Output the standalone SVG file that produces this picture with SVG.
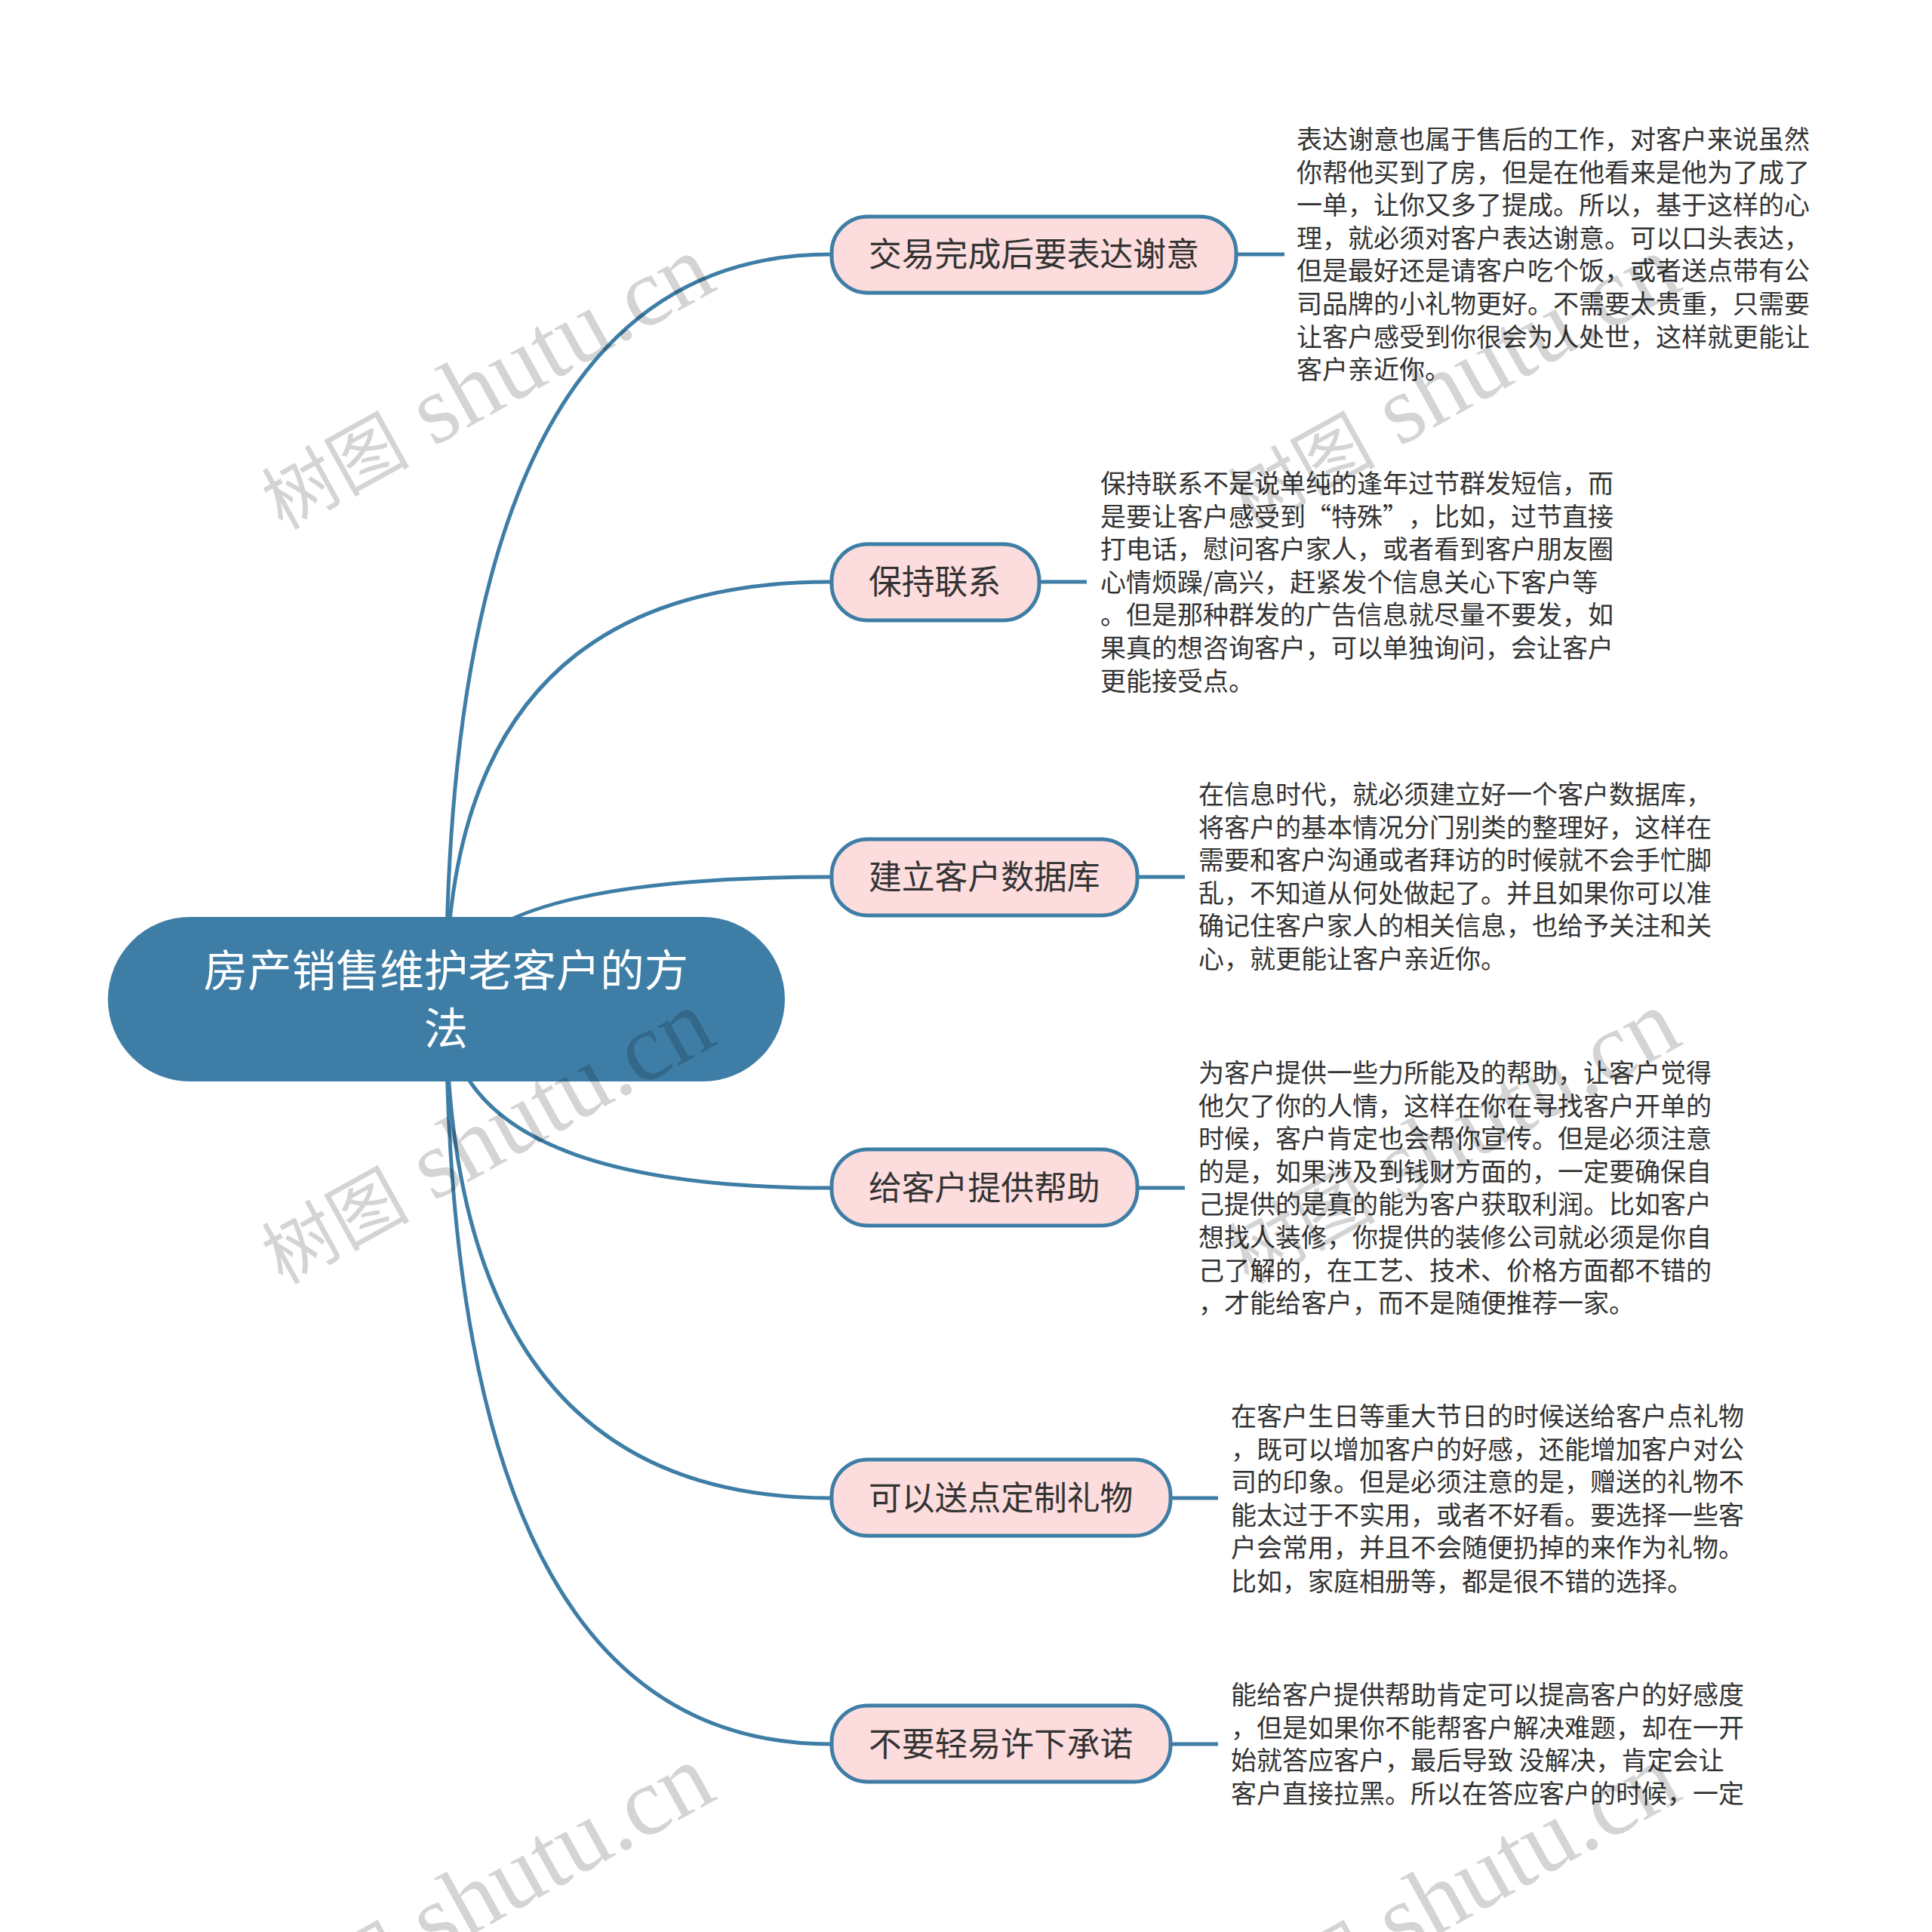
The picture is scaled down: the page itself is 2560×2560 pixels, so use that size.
<svg xmlns="http://www.w3.org/2000/svg" width="2560" height="2560" viewBox="0 0 2560 2560">
<style>
text{font-family:"Noto Sans CJK SC","Noto Sans",sans-serif}
.c{fill:none;stroke:#3e7ea6;stroke-width:5}
.b rect{fill:#fcdcdc;stroke:#3e7ea6;stroke-width:5}
.b text{font-size:43.8px;fill:#333}
.d{font-size:34px;fill:#333}
.t{font-size:58.4px;fill:#fff;text-anchor:middle}
.w{font-family:"Liberation Serif","Noto Sans CJK SC",serif;font-size:129px;fill:#000;fill-opacity:.17}
.w tspan{font-family:"Noto Sans CJK SC",serif;font-size:98px}
</style>
<rect width="2560" height="2560" fill="#fff"/>
<g id="connectors">
<path class="c" d="M591 1324Q591 337 1100 337"/>
<path class="c" d="M591 1324Q591 771 1100 771"/>
<path class="c" d="M591 1324Q591 1162 1100 1162"/>
<path class="c" d="M591 1324Q591 1574 1100 1574"/>
<path class="c" d="M591 1324Q591 1985 1100 1985"/>
<path class="c" d="M591 1324Q591 2311 1100 2311"/>
<path class="c" d="M1638 337H1702"/>
<path class="c" d="M1377 771H1440"/>
<path class="c" d="M1507 1162H1570"/>
<path class="c" d="M1507 1574H1570"/>
<path class="c" d="M1551 1985H1614"/>
<path class="c" d="M1551 2311H1614"/>
</g>
<g id="root"><rect x="143" y="1215" width="897" height="218" rx="109" ry="109" fill="#3e7ea6"/>
<text class="t" x="591" y="1307">房产销售维护老客户的方</text><text class="t" x="591" y="1384">法</text></g>
<g id="n1" class="b"><rect x="1102" y="287" width="536" height="101" rx="48"/><text x="1151" y="353">交易完成后要表达谢意</text></g>
<g id="n2" class="b"><rect x="1102" y="721" width="275" height="101" rx="48"/><text x="1151" y="787">保持联系</text></g>
<g id="n3" class="b"><rect x="1102" y="1112" width="405" height="101" rx="48"/><text x="1151" y="1178">建立客户数据库</text></g>
<g id="n4" class="b"><rect x="1102" y="1523" width="405" height="101" rx="48"/><text x="1151" y="1590">给客户提供帮助</text></g>
<g id="n5" class="b"><rect x="1102" y="1934" width="449" height="101" rx="48"/><text x="1151" y="2001">可以送点定制礼物</text></g>
<g id="n6" class="b"><rect x="1102" y="2260" width="449" height="101" rx="48"/><text x="1151" y="2327">不要轻易许下承诺</text></g>
<g id="d1" class="d">
<text class="d" x="1718" y="197">表达谢意也属于售后的工作，对客户来说虽然</text>
<text class="d" x="1718" y="240.6">你帮他买到了房，但是在他看来是他为了成了</text>
<text class="d" x="1718" y="284.2">一单，让你又多了提成。所以，基于这样的心</text>
<text class="d" x="1718" y="327.8">理，就必须对客户表达谢意。可以口头表达，</text>
<text class="d" x="1718" y="371.4">但是最好还是请客户吃个饭，或者送点带有公</text>
<text class="d" x="1718" y="415">司品牌的小礼物更好。不需要太贵重，只需要</text>
<text class="d" x="1718" y="458.6">让客户感受到你很会为人处世，这样就更能让</text>
<text class="d" x="1718" y="502.2">客户亲近你。</text>
</g>
<g id="d2" class="d">
<text class="d" x="1458" y="653">保持联系不是说单纯的逢年过节群发短信，而</text>
<text class="d" x="1458" y="696.6">是要让客户感受到“特殊”<tspan dx="17">，比如，过节直接</tspan></text>
<text class="d" x="1458" y="740.2">打电话，慰问客户家人，或者看到客户朋友圈</text>
<text class="d" x="1458" y="783.8">心情烦躁/高兴，赶紧发个信息关心下客户等</text>
<text class="d" x="1458" y="827.4">。但是那种群发的广告信息就尽量不要发，如</text>
<text class="d" x="1458" y="871">果真的想咨询客户，可以单独询问，会让客户</text>
<text class="d" x="1458" y="914.6">更能接受点。</text>
</g>
<g id="d3" class="d">
<text class="d" x="1588" y="1065">在信息时代，就必须建立好一个客户数据库，</text>
<text class="d" x="1588" y="1108.6">将客户的基本情况分门别类的整理好，这样在</text>
<text class="d" x="1588" y="1152.2">需要和客户沟通或者拜访的时候就不会手忙脚</text>
<text class="d" x="1588" y="1195.8">乱，不知道从何处做起了。并且如果你可以准</text>
<text class="d" x="1588" y="1239.4">确记住客户家人的相关信息，也给予关注和关</text>
<text class="d" x="1588" y="1283">心，就更能让客户亲近你。</text>
</g>
<g id="d4" class="d">
<text class="d" x="1588" y="1434">为客户提供一些力所能及的帮助，让客户觉得</text>
<text class="d" x="1588" y="1477.6">他欠了你的人情，这样在你在寻找客户开单的</text>
<text class="d" x="1588" y="1521.2">时候，客户肯定也会帮你宣传。但是必须注意</text>
<text class="d" x="1588" y="1564.8">的是，如果涉及到钱财方面的，一定要确保自</text>
<text class="d" x="1588" y="1608.4">己提供的是真的能为客户获取利润。比如客户</text>
<text class="d" x="1588" y="1652">想找人装修，你提供的装修公司就必须是你自</text>
<text class="d" x="1588" y="1695.6">己了解的，在工艺、技术、价格方面都不错的</text>
<text class="d" x="1588" y="1739.2">，才能给客户，而不是随便推荐一家。</text>
</g>
<g id="d5" class="d">
<text class="d" x="1631" y="1889">在客户生日等重大节日的时候送给客户点礼物</text>
<text class="d" x="1631" y="1932.6">，既可以增加客户的好感，还能增加客户对公</text>
<text class="d" x="1631" y="1976.2">司的印象。但是必须注意的是，赠送的礼物不</text>
<text class="d" x="1631" y="2019.8">能太过于不实用，或者不好看。要选择一些客</text>
<text class="d" x="1631" y="2063.4">户会常用，并且不会随便扔掉的来作为礼物。</text>
<text class="d" x="1631" y="2107.5">比如，家庭相册等，都是很不错的选择。</text>
</g>
<g id="d6" class="d">
<text class="d" x="1631" y="2258">能给客户提供帮助肯定可以提高客户的好感度</text>
<text class="d" x="1631" y="2301.6">，但是如果你不能帮客户解决难题，却在一开</text>
<text class="d" x="1631" y="2345.2">始就答应客户，最后导致 没解决，肯定会让</text>
<text class="d" x="1631" y="2388.8">客户直接拉黑。所以在答应客户的时候，一定</text>
</g>
<g id="watermark">
<text class="w" transform="translate(374 703) rotate(-29)"><tspan>树图</tspan> shutu.cn</text>
<text class="w" transform="translate(1654 703) rotate(-29)"><tspan>树图</tspan> shutu.cn</text>
<text class="w" transform="translate(374 1703) rotate(-29)"><tspan>树图</tspan> shutu.cn</text>
<text class="w" transform="translate(1654 1703) rotate(-29)"><tspan>树图</tspan> shutu.cn</text>
<text class="w" transform="translate(374 2703) rotate(-29)"><tspan>树图</tspan> shutu.cn</text>
<text class="w" transform="translate(1654 2703) rotate(-29)"><tspan>树图</tspan> shutu.cn</text>
</g>
</svg>
